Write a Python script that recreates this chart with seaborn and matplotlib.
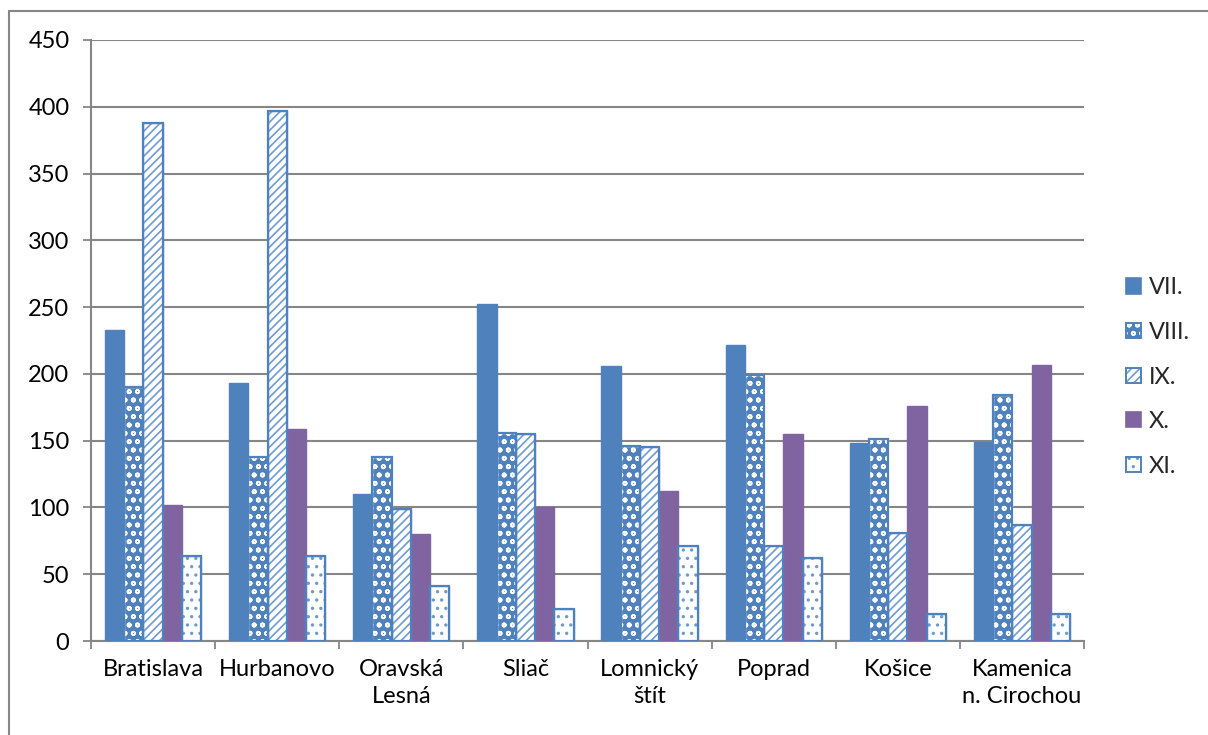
import matplotlib
matplotlib.use("Agg")
import matplotlib.pyplot as plt
import matplotlib.patches as mpatches
from matplotlib.legend_handler import HandlerTuple
import seaborn as sns
import pandas as pd

stations = ["Bratislava", "Hurbanovo", "Oravská\nLesná", "Sliač", "Lomnický\nštít",
            "Poprad", "Košice", "Kamenica\nn. Cirochou"]
months = ["VII.", "VIII.", "IX.", "X.", "XI."]
vii = [233, 193, 110, 252, 206, 222, 148, 149]
viii = [190, 138, 138, 156, 146, 199, 151, 184]
ix = [388, 397, 99, 155, 145, 71, 81, 87]
x_ = [102, 159, 80, 100, 112, 155, 176, 207]
xi = [64, 64, 41, 24, 71, 62, 20, 20]
yticks = [0, 50, 100, 150, 200, 250, 300, 350, 400, 450]

series = {"VII.": vii, "VIII.": viii, "IX.": ix, "X.": x_, "XI.": xi}
rows = []
for m in months:
    for s, v in zip(stations, series[m]):
        rows.append({"station": s, "month": m, "value": v})
df = pd.DataFrame(rows)

BLUE = "#4F81BD"
PURPLE = "#8064A2"
GRID = "#868686"

sns.set_theme(style="white")
plt.rcParams["font.family"] = ["Lato", "DejaVu Sans"]
plt.rcParams["hatch.linewidth"] = 1.2

fig = plt.figure(figsize=(12.08, 7.35), dpi=100)
ax = fig.add_axes([91 / 1208, 1 - 641 / 735, (1084 - 91) / 1208, (641 - 40) / 735])

palette = {"VII.": BLUE, "VIII.": BLUE, "IX.": "white", "X.": PURPLE, "XI.": "white"}
sns.barplot(data=df, x="station", y="value", hue="month", hue_order=months,
            order=stations, palette=palette, width=0.775, saturation=1,
            legend=False, ax=ax, zorder=3)

styles = {
    "VII.": dict(fc=BLUE, ec=BLUE, hatch=None),
    "VIII.": dict(fc=BLUE, ec="white", hatch="oo"),
    "IX.": dict(fc="white", ec="#6F9AD0", hatch="////"),
    "X.": dict(fc=PURPLE, ec=PURPLE, hatch=None),
    "XI.": dict(fc="white", ec="#6F9AD0", hatch=".."),
}
outlined = ("VIII.", "IX.", "XI.")
for m, cont in zip(months, ax.containers):
    st = styles[m]
    for p in cont.patches:
        p.set_facecolor(st["fc"])
        p.set_edgecolor(st["ec"])
        p.set_linewidth(1.0)
        if st["hatch"]:
            p.set_hatch(st["hatch"])
        if m in outlined:
            ax.add_patch(mpatches.Rectangle((p.get_x(), p.get_y()), p.get_width(),
                                            p.get_height(), fill=False,
                                            edgecolor=BLUE, lw=1.6, zorder=4))

ax.set_ylim(0, 450)
ax.set_xlim(-0.5, len(stations) - 0.5)
ax.set_yticks(yticks)
ax.yaxis.grid(True, color=GRID, lw=1.5, zorder=0)
ax.set_axisbelow(True)
ax.set_xlabel("")
ax.set_ylabel("")
for side in ("top", "right"):
    ax.spines[side].set_visible(False)
for side in ("left", "bottom"):
    ax.spines[side].set_color(GRID)
    ax.spines[side].set_linewidth(1.5)

ax.tick_params(axis="y", which="major", left=True, length=5.5, width=1.3,
               color=GRID, labelsize=17, pad=10, labelcolor="black")
ax.tick_params(axis="x", which="major", bottom=False, length=0, labelsize=17,
               pad=13, labelcolor="black")
ax.set_xticks([i - 0.5 for i in range(len(stations) + 1)], minor=True)
ax.tick_params(axis="x", which="minor", bottom=True, length=5.5, width=1.3, color=GRID)
for lab in ax.get_xticklabels():
    lab.set_linespacing(1.35)

handles = []
for m in months:
    st = styles[m]
    if m in outlined:
        inner = mpatches.Patch(facecolor=st["fc"], edgecolor=st["ec"], hatch=st["hatch"], lw=0)
        outer = mpatches.Patch(facecolor="none", edgecolor=BLUE, lw=1.4)
        handles.append((inner, outer))
    else:
        handles.append(mpatches.Patch(facecolor=st["fc"], edgecolor=st["fc"], lw=1.2))
leg = fig.legend(handles=handles, labels=months, loc="center left",
                 bbox_to_anchor=(1126 / 1208, 1 - 377 / 735),
                 handler_map={tuple: HandlerTuple(ndivide=1, pad=0)},
                 frameon=False, fontsize=17, handlelength=0.62, handleheight=0.62,
                 handletextpad=0.35, labelspacing=1.0, borderpad=0, borderaxespad=0)

fig.patches.append(mpatches.Rectangle((9 / 1208, -0.1), 2, 1 - 11 / 735 + 0.1,
                                      transform=fig.transFigure, fill=False,
                                      edgecolor=GRID, lw=1.5))

fig.savefig("out.png", dpi=100, facecolor="white")
